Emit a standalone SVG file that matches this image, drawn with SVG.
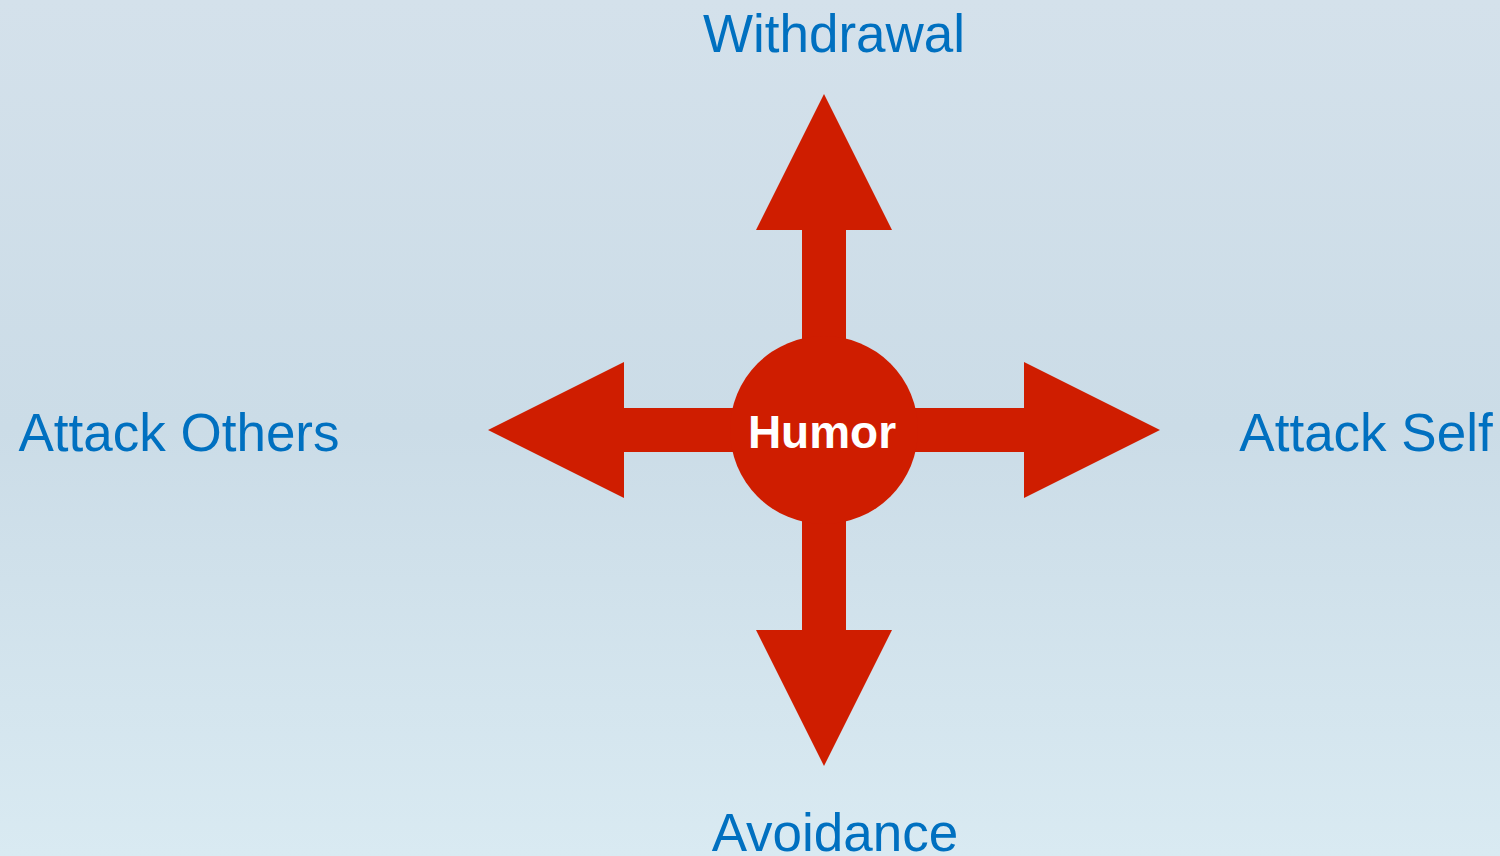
<svg xmlns="http://www.w3.org/2000/svg" width="1500" height="856" viewBox="0 0 1500 856">
  <defs>
    <linearGradient id="bg" x1="0" y1="0" x2="0" y2="1">
      <stop offset="0" stop-color="#d4e1eb"/>
      <stop offset="0.5" stop-color="#cbdce7"/>
      <stop offset="1" stop-color="#d9eaf2"/>
    </linearGradient>
    <style>
      .arrow { fill: #cf1d00; }
      .label { font-family: "Liberation Sans", Arial, sans-serif; font-size: 53px; fill: #0070c0; text-anchor: middle; }
      .hub { fill: #cf1d00; }
      .hubtext { font-family: "Liberation Sans", Arial, sans-serif; font-size: 46px; font-weight: bold; fill: #ffffff; text-anchor: middle; }
    </style>
  </defs>
  <rect width="1500" height="856" fill="url(#bg)"/>
  <g id="connectors">
    <polygon class="arrow" points="802,430 802,230 756,230 824,94 892,230 846,230 846,430"/>
    <polygon class="arrow" points="802,430 802,630 756,630 824,766 892,630 846,630 846,430"/>
    <polygon class="arrow" points="824,408 624,408 624,362 488,430 624,498 624,452 824,452"/>
    <polygon class="arrow" points="824,408 1024,408 1024,362 1160,430 1024,498 1024,452 824,452"/>
  </g>
  <g id="node-humor">
    <circle class="hub" cx="824" cy="430" r="94"/>
    <text class="hubtext" x="822" y="448">Humor</text>
  </g>
  <g id="node-withdrawal">
    <text class="label" x="834" y="52">Withdrawal</text>
  </g>
  <g id="node-avoidance">
    <text class="label" x="835" y="851">Avoidance</text>
  </g>
  <g id="node-attack-others">
    <text class="label" x="179" y="451">Attack Others</text>
  </g>
  <g id="node-attack-self">
    <text class="label" x="1366" y="451">Attack Self</text>
  </g>
</svg>
